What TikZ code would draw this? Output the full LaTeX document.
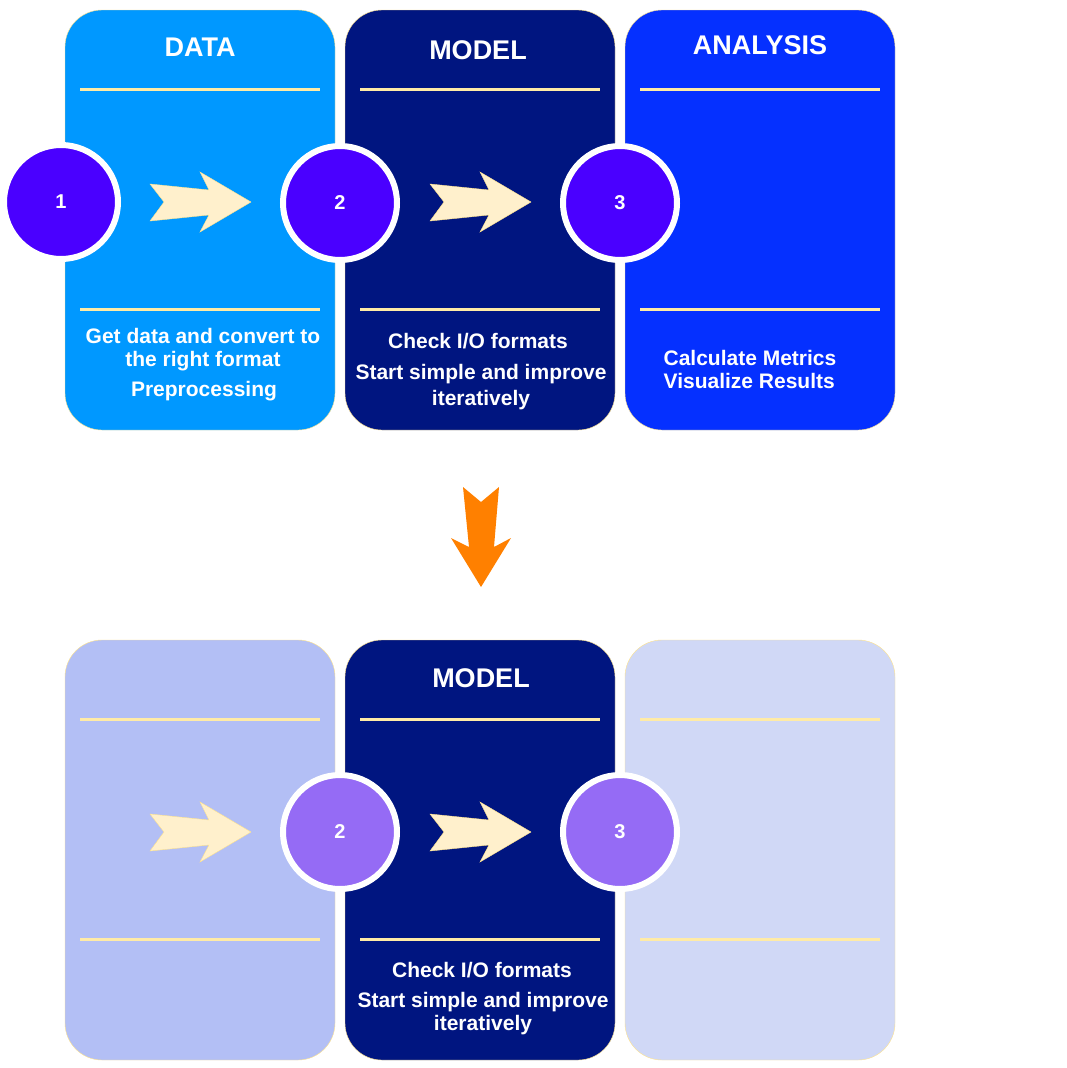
\documentclass[tikz,border=0pt]{standalone}
\usepackage{fontspec}
\setmainfont{Liberation Sans}
\usepackage{tikz}
\usepackage{xcolor}
\definecolor{data-blue}{HTML}{0098FF}
\definecolor{model-navy}{HTML}{001580}
\definecolor{analysis-blue}{HTML}{0530FF}
\definecolor{step-purple}{HTML}{4A00FF}
\definecolor{step-lilac}{HTML}{956BF5}
\definecolor{data-faded}{HTML}{B3BFF5}
\definecolor{analysis-faded}{HTML}{D0D8F6}
\definecolor{rule-yellow}{HTML}{FFEBA6}
\definecolor{edge-gold}{HTML}{FFE38A}
\definecolor{cream}{HTML}{FFF0CC}
\definecolor{down-orange}{HTML}{FF8000}
\tikzset{
    stage-box/.style = {draw=edge-gold, thin, rectangle, rounded corners=37pt, minimum width=270pt, minimum height=420pt, inner sep=0pt},
    stage-title/.style = {text=white, inner sep=0pt, font=\fontsize{27}{32}\selectfont\bfseries},
    stage-text/.style = {text=white, align=center, inner sep=0pt, font=\fontsize{21}{23}\selectfont\bfseries},
    stage-rule/.style = {draw=rule-yellow, line width=3pt},
    step-dot/.style = {circle, draw=white, line width=6pt, minimum size=114pt, inner sep=0pt, text=white, font=\fontsize{20}{22}\selectfont\bfseries},
    chevron/.style = {fill=cream, draw=edge-gold, thin},
}

\begin{document}
\begin{tikzpicture}[x=1pt, y=-1pt]
\useasboundingbox (0,0) rectangle (1067,1068);

% upper row
\node [stage-box, fill=data-blue] (data) at (200,220) {};
\node [stage-box, fill=model-navy] (model) at (480,220) {};
\node [stage-box, fill=analysis-blue] (analysis) at (760,220) {};

\node [stage-title] (data-title) at (200,47) {DATA};
\node [stage-title] (model-title) at (478,50) {MODEL};
\node [stage-title] (analysis-title) at (760,45) {ANALYSIS};

\draw [stage-rule] (80,89) -- (320,89);
\draw [stage-rule] (360,89) -- (600,89);
\draw [stage-rule] (640,89) -- (880,89);
\draw [stage-rule] (80,309) -- (320,309);
\draw [stage-rule] (360,309) -- (600,309);
\draw [stage-rule] (640,309) -- (880,309);

\draw [chevron] (150,184) -- ++(59,6) -- ++(-9,-18) -- ++(51,30) -- ++(-51,30) -- ++(9,-17) -- ++(-59,6) -- ++(14,-19) -- cycle;
\draw [chevron] (430,184) -- ++(59,6) -- ++(-9,-18) -- ++(51,30) -- ++(-51,30) -- ++(9,-17) -- ++(-59,6) -- ++(14,-19) -- cycle;

\node [step-dot, fill=step-purple] (one) at (61,202) {1};
\node [step-dot, fill=step-purple] (two) at (340,203) {2};
\node [step-dot, fill=step-purple] (three) at (620,203) {3};

\node [stage-text] (data-get) at (203,350) {Get data and convert to\\the right format};
\node [stage-text] (data-prep) at (204,391) {Preprocessing};
\node [stage-text] (model-io) at (478,341) {Check I/O formats};
\node [stage-text, font=\fontsize{21}{26}\selectfont\bfseries] (model-iter) at (481,387) {Start simple and improve\\iteratively};
\node [stage-text, align=left] (analysis-metrics) at (750,369) {Calculate Metrics\\Visualize Results};

% orange arrow down
\fill [down-orange] (463,487) -- (481,502) -- (499,487) -- (494,547) -- (511,538) -- (481,587) -- (451,538) -- (469,547) -- cycle;

% lower row
\node [stage-box, fill=data-faded] (data-low) at (200,850) {};
\node [stage-box, fill=model-navy] (model-low) at (480,850) {};
\node [stage-box, fill=analysis-faded] (analysis-low) at (760,850) {};

\node [stage-title] (model-low-title) at (481,678) {MODEL};

\draw [stage-rule] (80,719) -- (320,719);
\draw [stage-rule] (360,719) -- (600,719);
\draw [stage-rule] (640,719) -- (880,719);
\draw [stage-rule] (80,939) -- (320,939);
\draw [stage-rule] (360,939) -- (600,939);
\draw [stage-rule] (640,939) -- (880,939);

\draw [chevron] (150,814) -- ++(59,6) -- ++(-9,-18) -- ++(51,30) -- ++(-51,30) -- ++(9,-17) -- ++(-59,6) -- ++(14,-19) -- cycle;
\draw [chevron] (430,814) -- ++(59,6) -- ++(-9,-18) -- ++(51,30) -- ++(-51,30) -- ++(9,-17) -- ++(-59,6) -- ++(14,-19) -- cycle;

\node [step-dot, fill=step-lilac] (two-low) at (340,832) {2};
\node [step-dot, fill=step-lilac] (three-low) at (620,832) {3};

\node [stage-text] (model-low-io) at (482,970) {Check I/O formats};
\node [stage-text] (model-low-iter) at (483,1014) {Start simple and improve\\iteratively};
\end{tikzpicture}
\end{document}
